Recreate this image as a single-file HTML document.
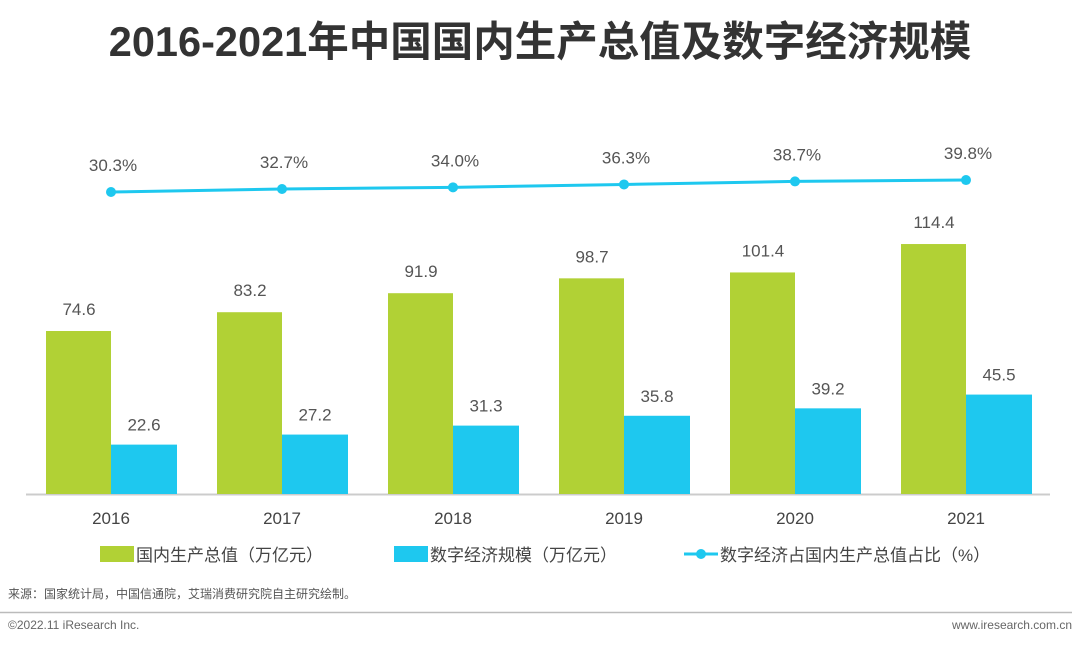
<!DOCTYPE html>
<html><head><meta charset="utf-8"><style>
body{margin:0;width:1080px;height:647px;background:#fff;overflow:hidden;font-family:"Liberation Sans","Noto Sans CJK SC",sans-serif}
</style></head><body>
<svg id="c" width="1080" height="647" xmlns="http://www.w3.org/2000/svg">
<text x="540" y="56" text-anchor="middle" font-size="41.5" font-weight="bold" fill="#333" font-family="Liberation Sans,Noto Sans CJK SC,sans-serif">2016-2021年中国国内生产总值及数字经济规模</text>
<line x1="26" y1="494.5" x2="1050" y2="494.5" stroke="#ccc" stroke-width="2"/>
<g id="bars"></g><g id="line"></g><g id="labels"></g>
<g font-size="17" fill="#444">
<rect x="100" y="546" width="34" height="16" fill="#b1d135"/>
<text x="136" y="561">国内生产总值（万亿元）</text>
<rect x="394" y="546" width="34" height="16" fill="#1ec8ef"/>
<text x="430" y="561">数字经济规模（万亿元）</text>
<line x1="684" y1="554" x2="718" y2="554" stroke="#1ec8ef" stroke-width="3"/>
<circle cx="701" cy="554" r="5" fill="#1ec8ef"/>
<text x="720" y="561">数字经济占国内生产总值占比（%）</text>
</g>
<text x="8" y="598" font-size="12" fill="#555">来源：国家统计局，中国信通院，艾瑞消费研究院自主研究绘制。</text>
<line x1="0" y1="612.5" x2="1072" y2="612.5" stroke="#bbb" stroke-width="1.5"/>
<text x="8" y="629" font-size="12" fill="#666">©2022.11 iResearch Inc.</text>
<text x="1072" y="629" font-size="12" fill="#666" text-anchor="end">www.iresearch.com.cn</text>
</svg>
<script>
const years=["2016","2017","2018","2019","2020","2021"];
const gdp=[74.6,83.2,91.9,98.7,101.4,114.4];
const digital=[22.6,27.2,31.3,35.8,39.2,45.5];
const ratio=[30.3,32.7,34.0,36.3,38.7,39.8];
const NS="http://www.w3.org/2000/svg";
const base=494,k=2.185;
const cx=i=>111+i*171;
const yb=v=>base-v*k;
const yl=v=>192-(v-30.3)*1.26;
function mk(t,a,p){const e=document.createElementNS(NS,t);for(const n in a)e.setAttribute(n,a[n]);document.getElementById(p).appendChild(e);return e;}
years.forEach((y,i)=>{
 let r=mk("rect",{x:cx(i)-65,y:yb(gdp[i]),width:65,height:gdp[i]*k,fill:"#b1d135"},"bars");
 
 
 r=mk("rect",{x:cx(i),y:yb(digital[i]),width:66,height:digital[i]*k,fill:"#1ec8ef"},"bars");
 
 
 let t=mk("text",{x:cx(i)-32,y:yb(gdp[i])-16,"text-anchor":"middle","font-size":17,fill:"#555"},"labels");t.textContent=gdp[i].toFixed(1);
 
 
 t=mk("text",{x:cx(i)+33,y:yb(digital[i])-14,"text-anchor":"middle","font-size":17,fill:"#555"},"labels");t.textContent=digital[i].toFixed(1);
 
 
 t=mk("text",{x:cx(i),y:524,"text-anchor":"middle","font-size":17,fill:"#444"},"labels");t.textContent=y;
 
 
 t=mk("text",{x:cx(i)+2,y:yl(ratio[i])-21,"text-anchor":"middle","font-size":17,fill:"#555"},"labels");t.textContent=ratio[i].toFixed(1)+"%";
 
 
});
const pl=mk("polyline",{points:ratio.map((v,i)=>cx(i)+","+yl(v)).join(" "),fill:"none",stroke:"#1ec8ef","stroke-width":3},"line");


ratio.forEach((v,i)=>{const c=mk("circle",{cx:cx(i),cy:yl(v),r:5,fill:"#1ec8ef"},"line");
 
 });
</script>
</body></html>
